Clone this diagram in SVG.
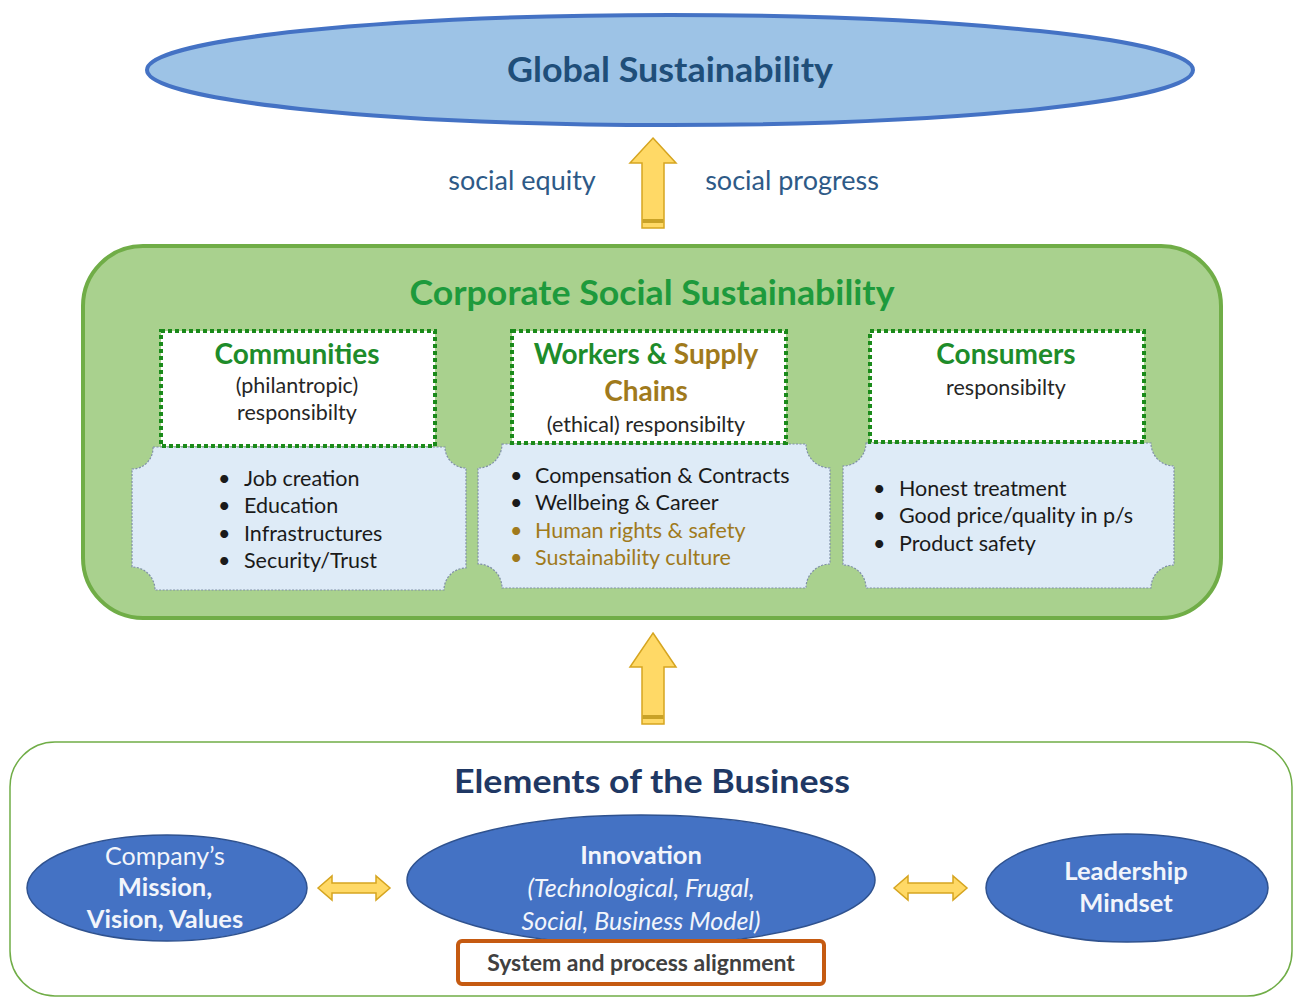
<svg xmlns="http://www.w3.org/2000/svg" width="1294" height="998" viewBox="0 0 1294 998">
<style>
text{font-family:Lato,"Liberation Sans",sans-serif}
.arrow{fill:#FFD966;stroke:#D6A520;stroke-width:1.5}
.stripe{fill:#C9A227}
.white{fill:#fff;stroke:#1A8A1A;stroke-width:4;stroke-dasharray:4 3}
.plaque{fill:#DEEBF7;stroke:#7F8FA6;stroke-width:1.2;stroke-dasharray:2 1.5}
.head{font-weight:bold;font-size:28px;text-anchor:middle}
.green{fill:#1E8C2A}
.brown{fill:#A07A1C}
.sub{font-size:21.5px;fill:#262626;text-anchor:middle}
.li{font-size:21.5px;fill:#1a1a1a}
.lib{font-size:21.5px;fill:#A07A1C}
.blue-el{fill:#4472C4;stroke:#2F528F;stroke-width:1.5}
.wt{fill:#F2F5FB;font-size:25px;text-anchor:middle}
.b{font-weight:bold;font-size:25.5px}
.lbl{font-size:27px;fill:#2E5A87}
</style>

<g id="global">
<ellipse cx="670" cy="70" rx="523" ry="55" fill="#9DC3E6" stroke="#4472C4" stroke-width="4"/>
<text x="670" y="82" font-size="34" font-weight="bold" fill="#1F4E79" text-anchor="middle" textLength="326" lengthAdjust="spacingAndGlyphs">Global Sustainability</text>
</g>

<g id="css">
<rect x="83" y="246" width="1138" height="372" rx="60" fill="#A9D18E" stroke="#70AD47" stroke-width="4"/>
<text x="652" y="305" font-size="34" font-weight="bold" fill="#1E9A3C" text-anchor="middle" textLength="485" lengthAdjust="spacingAndGlyphs">Corporate Social Sustainability</text>
</g>

<g id="communities">
<path class="plaque" d="M153,447 L445,447 A21,21 0 0 0 466,468 L466,568 A22,22 0 0 0 444,590 L155,590 A23,23 0 0 0 132,567 L132,469 A21,21 0 0 0 153,447 Z"/>
<rect class="white" x="161" y="331" width="274" height="115"/>
<text class="head green" x="297" y="364">Communities</text>
<text class="sub" x="297" y="393">(philantropic)</text>
<text class="sub" x="297" y="420">responsibilty</text>
<text class="li" x="218" y="486">•</text><text class="li" x="244" y="486">Job creation</text>
<text class="li" x="218" y="513">•</text><text class="li" x="244" y="513">Education</text>
<text class="li" x="218" y="541">•</text><text class="li" x="244" y="541">Infrastructures</text>
<text class="li" x="218" y="568">•</text><text class="li" x="244" y="568">Security/Trust</text>
</g>

<g id="workers">
<path class="plaque" d="M502,444 L806,444 A24,24 0 0 0 830,468 L830,564 A24,24 0 0 0 806,588 L502,588 A24,24 0 0 0 478,564 L478,468 A24,24 0 0 0 502,444 Z"/>
<rect class="white" x="512" y="331" width="274" height="112"/>
<text class="head" x="646" y="364"><tspan class="green">Workers &amp; </tspan><tspan class="brown">Supply</tspan></text>
<text class="head brown" x="646" y="401">Chains</text>
<text class="sub" x="646" y="432">(ethical) responsibilty</text>
<text class="li" x="510" y="483">•</text><text class="li" x="535" y="483">Compensation &amp; Contracts</text>
<text class="li" x="510" y="510">•</text><text class="li" x="535" y="510">Wellbeing &amp; Career</text>
<text class="lib" x="510" y="538">•</text><text class="lib" x="535" y="538">Human rights &amp; safety</text>
<text class="lib" x="510" y="565">•</text><text class="lib" x="535" y="565">Sustainability culture</text>
</g>

<g id="consumers">
<path class="plaque" d="M866,443 L1151,443 A23,23 0 0 0 1174,466 L1174,565 A23,23 0 0 0 1151,588 L866,588 A23,23 0 0 0 843,565 L843,466 A23,23 0 0 0 866,443 Z"/>
<rect class="white" x="870" y="331" width="274" height="111"/>
<text class="head green" x="1006" y="364">Consumers</text>
<text class="sub" x="1006" y="395">responsibilty</text>
<text class="li" x="873" y="496">•</text><text class="li" x="899" y="496">Honest treatment</text>
<text class="li" x="873" y="523">•</text><text class="li" x="899" y="523">Good price/quality in p/s</text>
<text class="li" x="873" y="551">•</text><text class="li" x="899" y="551">Product safety</text>
</g>

<g id="business">
<rect x="10" y="742" width="1282" height="254" rx="45" fill="#fff" stroke="#70AD47" stroke-width="1.5"/>
<text x="652" y="793" font-size="32" font-weight="bold" fill="#1F3864" text-anchor="middle" textLength="396" lengthAdjust="spacingAndGlyphs">Elements of the Business</text>
</g>

<g id="mission">
<ellipse class="blue-el" cx="167" cy="888" rx="140" ry="53"/>
<text class="wt" x="165" y="865">Company’s</text>
<text class="wt b" x="165" y="896">Mission,</text>
<text class="wt b" x="165" y="928">Vision, Values</text>
</g>

<g id="innovation">
<ellipse class="blue-el" cx="641" cy="880" rx="234" ry="65"/>
<text class="wt b" x="641" y="864">Innovation</text>
<text class="wt" x="641" y="897" font-style="italic" font-size="26">(Technological, Frugal,</text>
<text class="wt" x="641" y="930" font-style="italic" font-size="26">Social, Business Model)</text>
</g>

<g id="leadership">
<ellipse class="blue-el" cx="1127" cy="888" rx="141" ry="54"/>
<text class="wt b" x="1126" y="880">Leadership</text>
<text class="wt b" x="1126" y="912">Mindset</text>
</g>

<g id="alignment">
<rect x="458" y="941" width="366" height="43" rx="4" fill="#fff" stroke="#C55A11" stroke-width="4"/>
<text x="641" y="971" font-size="23" font-weight="bold" fill="#404040" text-anchor="middle">System and process alignment</text>
</g>

<g id="connectors">
<g id="arrow-top">
<polygon class="arrow" points="653,138 676,163 664,163 664,228 642,228 642,163 630,163"/>
<rect class="stripe" x="642.5" y="219" width="21" height="4"/>
</g>
<text class="lbl" x="522" y="190" text-anchor="middle">social equity</text>
<text class="lbl" x="792" y="190" text-anchor="middle">social progress</text>
<g id="arrow-mid">
<polygon class="arrow" points="653,633 676,667 664,667 664,724 642,724 642,667 630,667"/>
<rect class="stripe" x="642.5" y="715" width="21" height="4"/>
</g>
<polygon id="dbl-left" class="arrow" points="318,888 332,876 332,883 376,883 376,876 390,888 376,900 376,893 332,893 332,900"/>
<polygon id="dbl-right" class="arrow" points="894,888 908,876 908,883 953,883 953,876 967,888 953,900 953,893 908,893 908,900"/>
</g>
</svg>
